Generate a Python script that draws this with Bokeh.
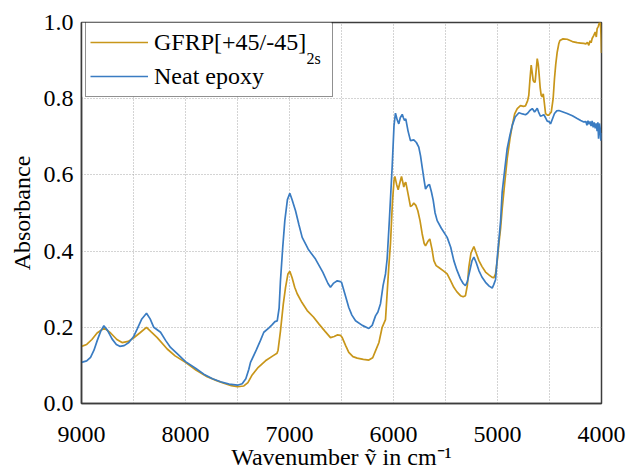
from bokeh.plotting import figure
from bokeh.models import (Range1d, FixedTicker, PrintfTickFormatter, Legend, LegendItem, Label,
                          BoxAnnotation)
from bokeh.embed import file_html
from bokeh.resources import INLINE

# ---------------- data ----------------
gfrp_wn = [9000, 8950, 8900, 8850, 8780, 8720, 8660, 8610, 8550, 8500, 8440, 8375, 8330, 8272,
           8176, 8100, 8000, 7900, 7792, 7700, 7632, 7560, 7500, 7439, 7400, 7359, 7300, 7231,
           7160, 7120, 7110, 7087, 7060, 7038, 7015, 6997, 6975, 6950, 6926, 6880, 6830, 6770,
           6718, 6660, 6606, 6570, 6541, 6510, 6493, 6460, 6430, 6390, 6349, 6290, 6237, 6200,
           6173, 6140, 6109, 6077, 6061, 6045, 6029, 6010, 5995, 5987, 5970, 5955, 5940, 5923,
           5910, 5901, 5890, 5882, 5860, 5837, 5820, 5805, 5785, 5766, 5745, 5724, 5705, 5692,
           5670, 5651, 5630, 5612, 5590, 5564, 5520, 5484, 5450, 5420, 5390, 5356, 5330, 5308,
           5290, 5276, 5255, 5227, 5205, 5179, 5150, 5115, 5080, 5051, 5035, 5019, 5000, 4987,
           4970, 4955, 4930, 4907, 4880, 4858, 4835, 4810, 4779, 4750, 4731, 4710, 4699, 4688,
           4676, 4667, 4657, 4645, 4638, 4628, 4618, 4608, 4599, 4590, 4580, 4570, 4560, 4550,
           4538, 4520, 4506, 4483, 4465, 4452, 4440, 4426, 4410, 4400, 4370, 4330, 4280, 4234,
           4200, 4170, 4150, 4135, 4122, 4110, 4100, 4090, 4074, 4060, 4050, 4042, 4030, 4020,
           4012, 4005, 4000]
gfrp_abs = [0.150, 0.155, 0.168, 0.185, 0.198, 0.185, 0.168, 0.160, 0.163, 0.172, 0.185, 0.200,
            0.188, 0.173, 0.143, 0.125, 0.108, 0.088, 0.070, 0.060, 0.053, 0.047, 0.044, 0.046,
            0.055, 0.075, 0.095, 0.112, 0.125, 0.132, 0.140, 0.190, 0.260, 0.305, 0.340, 0.347,
            0.330, 0.305, 0.288, 0.265, 0.244, 0.227, 0.209, 0.190, 0.173, 0.176, 0.180, 0.179,
            0.173, 0.152, 0.134, 0.123, 0.119, 0.116, 0.114, 0.120, 0.138, 0.160, 0.200, 0.220,
            0.290, 0.360, 0.420, 0.530, 0.585, 0.596, 0.575, 0.561, 0.578, 0.596, 0.580, 0.568,
            0.578, 0.581, 0.550, 0.517, 0.520, 0.526, 0.520, 0.506, 0.480, 0.445, 0.420, 0.414,
            0.425, 0.432, 0.405, 0.375, 0.362, 0.357, 0.348, 0.340, 0.322, 0.305, 0.293, 0.283,
            0.280, 0.283, 0.310, 0.357, 0.395, 0.412, 0.395, 0.375, 0.360, 0.345, 0.337, 0.331,
            0.330, 0.340, 0.380, 0.419, 0.460, 0.511, 0.580, 0.642, 0.695, 0.730, 0.760, 0.774,
            0.782, 0.780, 0.781, 0.795, 0.809, 0.850, 0.888, 0.870, 0.848, 0.843, 0.844, 0.875,
            0.905, 0.890, 0.861, 0.830, 0.809, 0.805, 0.813, 0.790, 0.761, 0.757, 0.757, 0.765,
            0.800, 0.853, 0.890, 0.922, 0.945, 0.953, 0.957, 0.956, 0.950, 0.947, 0.946, 0.945,
            0.944, 0.948, 0.940, 0.952, 0.947, 0.958, 0.966, 0.975, 0.962, 0.984, 0.990, 1.000,
            1.010, 0.970, 0.920]

epoxy_wn = [9000, 8950, 8913, 8880, 8849, 8815, 8785, 8750, 8705, 8665, 8632, 8590, 8545, 8500,
            8465, 8420, 8375, 8340, 8305, 8240, 8190, 8144, 8070, 8000, 7900, 7824, 7740, 7663,
            7580, 7500, 7455, 7420, 7391, 7375, 7320, 7280, 7247, 7200, 7166, 7140, 7118, 7100,
            7087, 7065, 7045, 7020, 6997, 6975, 6942, 6910, 6878, 6820, 6750, 6680, 6630, 6606,
            6575, 6541, 6510, 6500, 6470, 6430, 6400, 6365, 6300, 6237, 6205, 6173, 6150, 6125,
            6100, 6077, 6061, 6040, 6013, 5995, 5981, 5965, 5949, 5935, 5916, 5905, 5894, 5882,
            5860, 5837, 5805, 5780, 5757, 5740, 5724, 5705, 5692, 5670, 5654, 5635, 5618, 5600,
            5580, 5540, 5484, 5450, 5420, 5390, 5356, 5330, 5308, 5290, 5266, 5245, 5227, 5205,
            5179, 5150, 5115, 5080, 5051, 5036, 5019, 5000, 4987, 4970, 4955, 4930, 4907, 4880,
            4858, 4830, 4794, 4760, 4731, 4710, 4689, 4666, 4655, 4644, 4630, 4618, 4605, 4587,
            4570, 4554, 4538, 4522, 4505, 4490, 4470, 4452, 4430, 4410, 4370, 4330, 4280, 4234,
            4200, 4170, 4150, 4140, 4130, 4120, 4110, 4100, 4090, 4080, 4070, 4060, 4050, 4042,
            4035, 4028, 4020, 4012, 4006, 4000]
epoxy_abs = [0.108, 0.112, 0.121, 0.140, 0.165, 0.190, 0.204, 0.192, 0.169, 0.155, 0.150, 0.152,
             0.160, 0.175, 0.195, 0.222, 0.237, 0.222, 0.200, 0.187, 0.165, 0.147, 0.128, 0.110,
             0.092, 0.077, 0.065, 0.057, 0.051, 0.048, 0.052, 0.065, 0.090, 0.108, 0.140, 0.165,
             0.187, 0.198, 0.207, 0.215, 0.217, 0.250, 0.322, 0.410, 0.480, 0.535, 0.552, 0.535,
             0.506, 0.470, 0.436, 0.405, 0.379, 0.345, 0.315, 0.305, 0.316, 0.322, 0.320, 0.318,
             0.290, 0.252, 0.232, 0.217, 0.205, 0.197, 0.205, 0.230, 0.240, 0.262, 0.310, 0.340,
             0.380, 0.480, 0.620, 0.730, 0.762, 0.745, 0.734, 0.750, 0.759, 0.750, 0.743, 0.747,
             0.715, 0.690, 0.692, 0.685, 0.673, 0.650, 0.620, 0.585, 0.563, 0.572, 0.575, 0.555,
             0.533, 0.500, 0.480, 0.460, 0.436, 0.410, 0.375, 0.350, 0.327, 0.315, 0.309, 0.320,
             0.349, 0.375, 0.384, 0.370, 0.349, 0.332, 0.318, 0.308, 0.303, 0.312, 0.325, 0.390,
             0.428, 0.480, 0.555, 0.615, 0.669, 0.705, 0.730, 0.752, 0.763, 0.760, 0.758, 0.762,
             0.769, 0.774, 0.770, 0.765, 0.770, 0.775, 0.765, 0.754, 0.756, 0.758, 0.750, 0.741,
             0.740, 0.734, 0.748, 0.761, 0.768, 0.769, 0.765, 0.761, 0.755, 0.748, 0.743, 0.739,
             0.740, 0.730, 0.742, 0.733, 0.740, 0.728, 0.742, 0.725, 0.738, 0.722, 0.735, 0.715,
             0.738, 0.695, 0.735, 0.720, 0.690, 0.710]

x_ticks = [9000, 8000, 7000, 6000, 5000, 4000]
x_grid = [8500, 8000, 7500, 7000, 6500, 6000, 5500, 5000, 4500]
y_ticks = [0.0, 0.2, 0.4, 0.6, 0.8, 1.0]
y_grid = [0.2, 0.4, 0.6, 0.8]

series_names = ["GFRP[+45/-45]", "Neat epoxy"]
subscript = "2s"
colors = ["#c8961a", "#3a7cc2"]

FONT = "Liberation Serif"
X_MIN, X_MAX = 9000, 4000

p = figure(width=640, height=475, output_backend="svg", toolbar_location=None,
           x_range=Range1d(X_MIN, X_MAX), y_range=Range1d(0, 1))
p.min_border_left = 81
p.min_border_right = 39
p.min_border_top = 22
p.min_border_bottom = 72
p.outline_line_color = "#3c3c3c"
p.outline_line_width = 1.5
p.background_fill_color = "white"
p.border_fill_color = "white"

# grids
p.xgrid.ticker = FixedTicker(ticks=x_grid)
p.ygrid.ticker = FixedTicker(ticks=y_grid)
for g in (p.xgrid[0], p.ygrid[0]):
    g.grid_line_color = "#a8a8a8"
    g.grid_line_dash = "1 2"
    g.grid_line_width = 1

# white area behind the legend (legend itself is transparent so the subscript shows)
p.add_layout(BoxAnnotation(left=X_MIN, right=6596, bottom=0.805, top=1.0,
                           fill_color="white", fill_alpha=1.0, line_color=None,
                           level="underlay"))

r1 = p.line(gfrp_wn, gfrp_abs, line_color=colors[0], line_width=1.7)
r2 = p.line(epoxy_wn, epoxy_abs, line_color=colors[1], line_width=1.7)

# axes
p.xaxis.ticker = FixedTicker(ticks=x_ticks)
p.yaxis.ticker = FixedTicker(ticks=y_ticks)
p.yaxis.formatter = PrintfTickFormatter(format="%.1f")
p.axis.major_label_text_font = FONT
p.axis.major_label_text_font_size = "24px"
p.axis.major_label_text_color = "black"
p.axis.axis_label_text_font = FONT
p.axis.axis_label_text_font_size = "24px"
p.axis.axis_label_text_font_style = "normal"
p.axis.axis_label_text_color = "black"
p.axis.major_tick_line_color = None
p.axis.minor_tick_line_color = None
p.axis.major_tick_out = 0
p.axis.major_tick_in = 0
p.axis.minor_tick_out = 0
p.axis.axis_line_color = "#3c3c3c"
p.axis.axis_line_width = 1.5
p.xaxis.axis_label = "Wavenumber \u1e7d in cm\u207b\u00b9"
p.yaxis.axis_label = "Absorbance"
p.xaxis.major_label_standoff = 23
p.xaxis.axis_label_standoff = -1
p.yaxis.major_label_standoff = 8
p.yaxis.axis_label_standoff = 6

# legend
legend = Legend(items=[LegendItem(label=series_names[0], renderers=[r1]),
                       LegendItem(label=series_names[1], renderers=[r2])],
                location=(4, 306), orientation="vertical")
legend.label_text_font = FONT
legend.label_text_font_size = "24px"
legend.label_text_color = "black"
legend.glyph_width = 58
legend.glyph_height = 32
legend.label_height = 32
legend.label_width = 174
legend.label_standoff = 6
legend.spacing = 2
legend.padding = 4
legend.margin = 0
legend.border_line_color = "#222222"
legend.border_line_width = 1.2
legend.background_fill_alpha = 0.0
p.add_layout(legend)

p.add_layout(Label(x=6837, y=0.905, text=subscript, text_font=FONT, text_font_size="16px",
                   text_color="black", text_baseline="alphabetic", text_align="left"))

open("out.html", "w").write(file_html(p, INLINE))
